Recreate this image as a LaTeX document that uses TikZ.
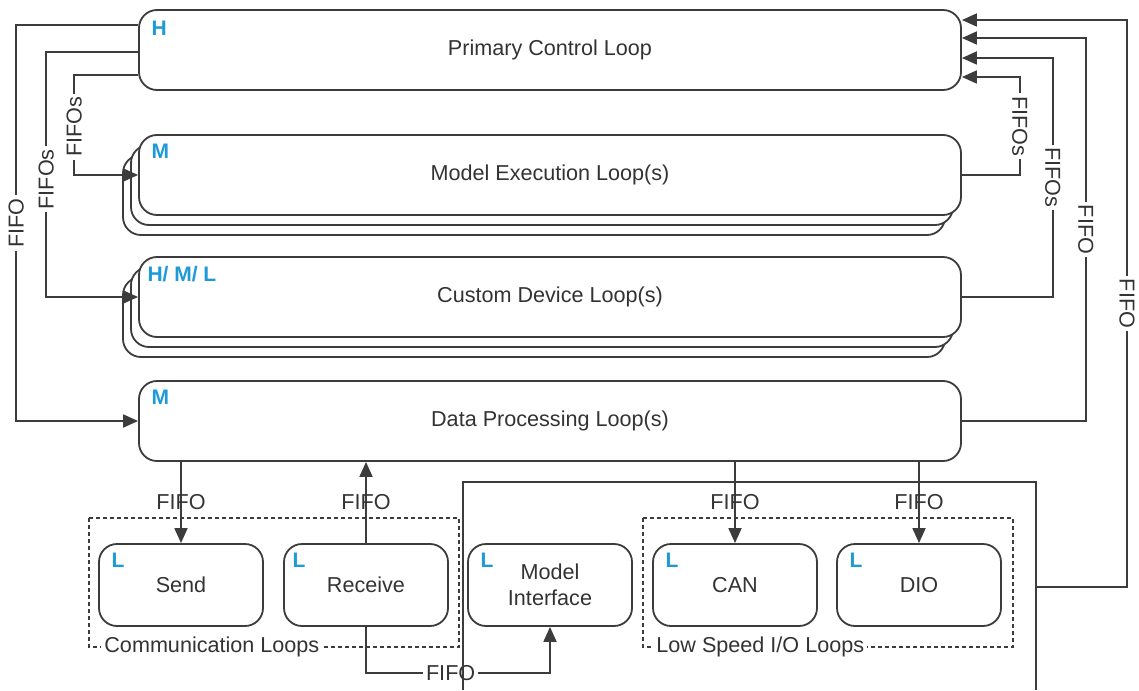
\documentclass[tikz,border=0pt]{standalone}
\usepackage{fontspec}
\setmainfont{Liberation Sans}
\usetikzlibrary{arrows.meta}
\definecolor{linegray}{HTML}{3C3C3C}
\definecolor{textgray}{HTML}{333333}
\definecolor{tagblue}{HTML}{1E9BD7}
\tikzset{
  loopbox/.style={draw=linegray, line width=0.9pt, rounded corners=9pt, fill=white,
    minimum width=411pt, minimum height=40pt, inner sep=0pt, text=textgray},
  smallbox/.style={loopbox, minimum width=82pt, minimum height=41pt, align=center},
  tag/.style={anchor=north west, inner sep=0pt, text=tagblue, font=\fontsize{10.5}{12}\bfseries},
  conn/.style={draw=linegray, line width=0.9pt},
  fifo/.style={fill=white, inner sep=1.5pt, text=textgray},
  fifoplain/.style={inner sep=0pt, text=textgray},
  group/.style={draw=linegray, line width=0.9pt, dash pattern=on 2pt off 1.5pt},
  grouplabel/.style={anchor=west, fill=white, inner sep=1.5pt, text=textgray}
}
\begin{document}
\begin{tikzpicture}[x=0.5pt, y=-0.5pt, font=\fontsize{10.8}{13}\selectfont,
    >={Triangle[length=7.5pt,width=6.5pt]}]
  \useasboundingbox (0,0) rectangle (1139,690);
  % main loops
  \node[loopbox] (pcl) at (550,50) {Primary Control Loop};
  \node[loopbox] (mel3) at (534,195) {};
  \node[loopbox] (mel2) at (542,185) {};
  \node[loopbox] (mel) at (550,175) {Model Execution Loop(s)};
  \node[loopbox] (cdl3) at (534,317) {};
  \node[loopbox] (cdl2) at (542,307) {};
  \node[loopbox] (cdl) at (550,297) {Custom Device Loop(s)};
  \node[loopbox] (dpl) at (550,421) {Data Processing Loop(s)};
  % low priority loops
  \node[smallbox] (send) at (181,585) {Send};
  \node[smallbox] (recv) at (366,585) {Receive};
  \node[smallbox] (mi) at (550,585) {Model\\Interface};
  \node[smallbox] (can) at (735,585) {CAN};
  \node[smallbox] (dio) at (919,585) {DIO};
  % priority tags
  \node[tag] (pcl-t) at ([shift={(6.5pt,-6pt)}]pcl.north west) {H};
  \node[tag] (mel-t) at ([shift={(6.5pt,-5pt)}]mel.north west) {M};
  \node[tag] (cdl-t) at ([shift={(4.5pt,-5pt)}]cdl.north west) {H/ M/ L};
  \node[tag] (dpl-t) at ([shift={(6.5pt,-5pt)}]dpl.north west) {M};
  \node[tag] (send-t) at ([shift={(6.5pt,-5pt)}]send.north west) {L};
  \node[tag] (recv-t) at ([shift={(4.5pt,-5pt)}]recv.north west) {L};
  \node[tag] (mi-t) at ([shift={(6.5pt,-5pt)}]mi.north west) {L};
  \node[tag] (can-t) at ([shift={(6.5pt,-5pt)}]can.north west) {L};
  \node[tag] (dio-t) at ([shift={(6.5pt,-5pt)}]dio.north west) {L};
  % groups
  \draw[group] (89,518) rectangle (459,647);
  \node[grouplabel] (comm) at (101,647) {Communication Loops};
  \draw[group] (643,518) rectangle (1013,647);
  \node[grouplabel] (lowio) at (653,647) {Low Speed I/O Loops};
  \begin{scope}[conn, ->]
    \draw ([yshift=12.5pt]pcl.west) -| node[pos=0.75, rotate=90, fifo] {FIFO} ([xshift=-61pt]dpl.west) -- (dpl.west);
    \draw ([yshift=-1pt]pcl.west) -| node[pos=0.76, rotate=90, fifo] {FIFOs} ([xshift=-46pt]cdl.west) -- (cdl.west);
    \draw ([yshift=-12.5pt]pcl.west) -| node[pos=0.76, rotate=90, fifo] {FIFOs} ([xshift=-32pt]mel.west) -- (mel.west);
    \draw (mel.east) -- ++(29pt,0) |- node[pos=0.25, rotate=-90, fifo] {FIFOs} ([yshift=-13.5pt]pcl.east);
    \draw (cdl.east) -- ++(45.5pt,0) |- node[pos=0.25, rotate=-90, fifo] {FIFOs} ([yshift=-4pt]pcl.east);
    \draw (dpl.east) -- ++(62pt,0) |- node[pos=0.25, rotate=-90, fifo] {FIFO} ([yshift=6pt]pcl.east);
    \draw (send.north |- dpl.south) -- node[fifoplain] {FIFO} (send.north);
    \draw (recv.north) -- node[fifoplain] {FIFO} (recv.north |- dpl.south);
    \draw (can.north |- dpl.south) -- node[fifoplain] {FIFO} (can.north);
    \draw (dio.north |- dpl.south) -- node[fifoplain] {FIFO} (dio.north);
    \draw (recv.south) -- ++(0,-23pt) -| node[pos=0.23, fifo] {FIFO} (mi.south);
  \end{scope}
  % hardware box
  \draw[conn] (463,690) -- (463,482) -- (1036,482) -- (1036,690);
  \coordinate (hw) at (1036,587);
  \draw[conn, ->] (hw) -- ++(45.5pt,0) |- node[pos=0.25, rotate=-90, fifo] {FIFO} ([yshift=15pt]pcl.east);
\end{tikzpicture}
\end{document}
